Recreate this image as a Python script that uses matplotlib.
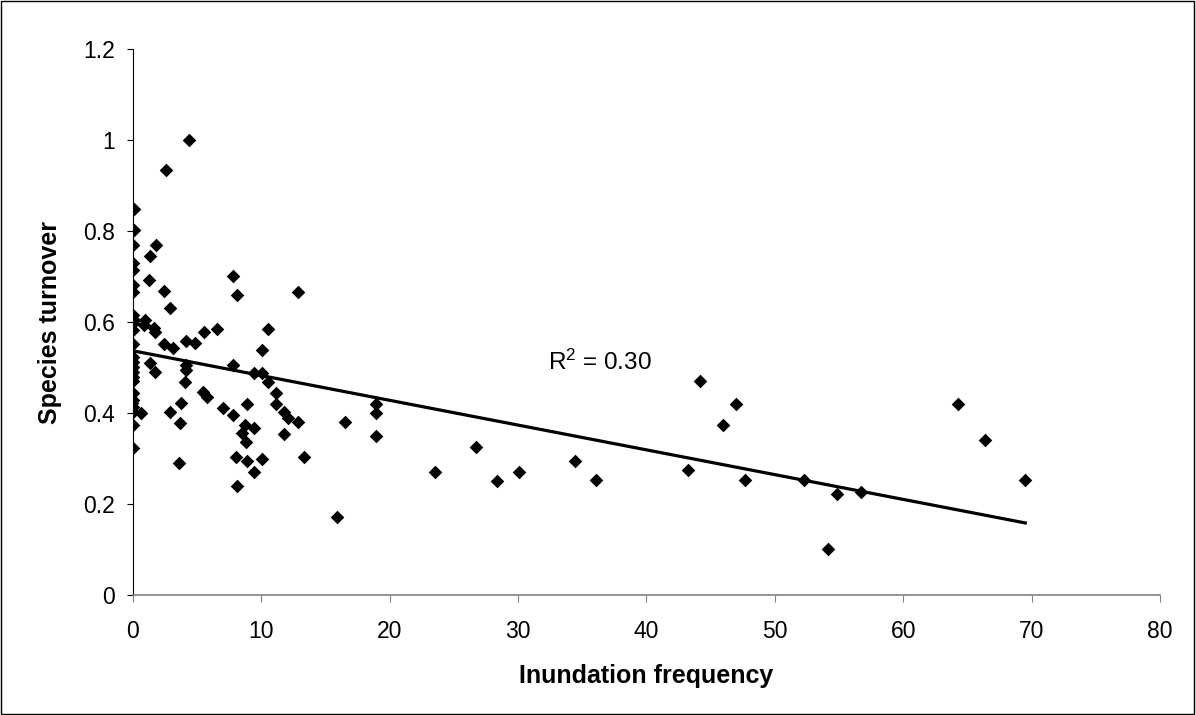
import matplotlib.pyplot as plt
import numpy as np
from matplotlib.patches import Rectangle

plt.rcParams['font.family'] = ['Liberation Sans', 'DejaVu Sans']
plt.rcParams['mathtext.default'] = 'regular'

# inundation frequency vs species turnover
inundation = [
    0.1, 0.1, 0.0, 0.0, 0.0, 0.0, 0.0, 0.0, 0.1, 0.0, 0.0, 0.0, 0.0,
    0.0, 0.0, 0.0, 0.0, 0.0, 0.0, 0.0, 0.0, -0.05, 0.0, 0.0, 0.0,
    0.64, 0.84, 0.97, 1.23, 1.36, 1.36, 1.62, 1.75, 1.75, 1.8, 2.4, 2.4,
    2.6, 2.9, 2.92, 3.1, 3.64, 3.77, 3.6, 4.09, 4.16, 4.16, 4.16, 4.4,
    4.86, 5.51, 5.5, 5.8, 6.55, 7.02, 7.77, 7.77, 7.77, 8.05, 8.1, 8.1,
    8.75, 8.5, 8.83, 9.46, 8.89, 8.89, 9.46, 9.46, 10.05, 10.05, 10.05,
    10.52, 10.57, 11.17, 11.17, 11.74, 11.74, 12.1, 12.83, 12.83, 13.3,
    15.9, 16.54, 18.95, 18.95, 18.95, 23.5, 26.7, 28.4, 30.1, 34.4, 36.1,
    43.2, 44.2, 46.0, 47.0, 47.7, 52.3, 54.1, 54.8, 56.7, 64.3, 66.4, 69.5,
]
turnover = [
    0.848, 0.802, 0.769, 0.73, 0.714, 0.681, 0.667, 0.615, 0.604, 0.597,
    0.582, 0.552, 0.524, 0.513, 0.502, 0.491, 0.48, 0.47, 0.443, 0.429,
    0.414, 0.421, 0.403, 0.374, 0.322,
    0.399, 0.593, 0.604, 0.692, 0.745, 0.509, 0.586, 0.579, 0.491, 0.769,
    0.669, 0.552, 0.935, 0.403, 0.632, 0.542, 0.377, 0.421, 0.289, 0.469,
    0.559, 0.505, 0.495, 1.0, 0.553, 0.579, 0.447, 0.436, 0.584, 0.412,
    0.701, 0.505, 0.396, 0.304, 0.659, 0.24, 0.374, 0.355, 0.337, 0.366,
    0.42, 0.295, 0.487, 0.271, 0.538, 0.489, 0.298, 0.584, 0.469, 0.445,
    0.42, 0.403, 0.353, 0.388, 0.667, 0.381, 0.303, 0.171, 0.381, 0.42,
    0.40, 0.35, 0.27, 0.325, 0.25, 0.27, 0.294, 0.253, 0.275, 0.47, 0.374,
    0.42, 0.253, 0.253, 0.10, 0.222, 0.226, 0.42, 0.34, 0.253,
]

# linear trend as drawn in the original
trend_intercept = 0.537
trend_slope = -0.00545
r_squared = 0.30

fig = plt.figure(figsize=(11.96, 7.15), dpi=100)
ax = fig.add_axes([0.111, 0.168, 0.859, 0.763])

ax.scatter(inundation, turnover, marker='D', s=48, color='black',
           linewidths=0, zorder=3)

tx = np.array([0, max(inundation)])
ax.plot(tx, trend_intercept + trend_slope * tx, color='black', lw=2.3, zorder=2)

ax.text(32.3, 0.512, f'R$^2$ = {r_squared:.2f}', fontsize=17.5,
        va='center', ha='left')

ax.set_xlim(0, 80)
ax.set_ylim(0, 1.2)
ax.set_xticks(range(0, 81, 10))
yt = [0, 0.2, 0.4, 0.6, 0.8, 1.0, 1.2]
ax.set_yticks(yt)
ax.set_yticklabels(['0', '0.2', '0.4', '0.6', '0.8', '1', '1.2'])
ax.tick_params(axis='both', labelsize=16.5, direction='out')
ax.tick_params(axis='x', colors='#808080', labelcolor='black', length=5, pad=13)
ax.tick_params(axis='y', colors='black', length=4, pad=9)

for side in ['top', 'right']:
    ax.spines[side].set_visible(False)
ax.spines['left'].set_color('black')
ax.spines['bottom'].set_color('#808080')
ax.spines['bottom'].set_linewidth(1.2)

ax.set_xlabel('Inundation frequency', fontsize=18, weight='bold', labelpad=15)
ax.set_ylabel('Species turnover', fontsize=18, weight='bold', labelpad=15)

# outer frame round the whole chart
fig.patches.append(Rectangle((0.001, 0.001), 0.997, 0.997, transform=fig.transFigure,
                             fill=False, edgecolor='black', lw=1))

fig.savefig('out.png', dpi=100, facecolor='white')
